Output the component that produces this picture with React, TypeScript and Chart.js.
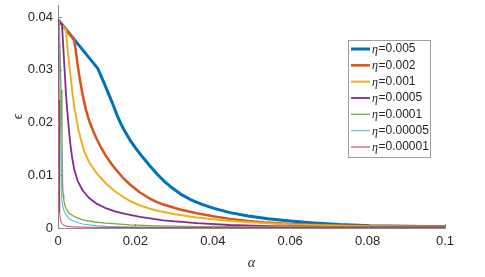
import React, { useEffect, useRef } from "react";
import { Chart, registerables } from "chart.js";

Chart.register(...registerables);

// ---- data ----
const seriesLabels = ["0.005", "0.002", "0.001", "0.0005", "0.0001", "0.00005", "0.00001"];

const alphaA = [0, 0.0045, 0.01026, 0.01214, 0.01395, 0.01525, 0.01628, 0.01731, 0.0186, 0.02016, 0.02196, 0.02377, 0.02558, 0.02739, 0.02946, 0.03178, 0.03437, 0.03721, 0.04031, 0.04444, 0.0491, 0.05426, 0.05995, 0.06615, 0.07287, 0.08062, 0.1];
const epsA = [0.0395, 0.0355, 0.03028, 0.02711, 0.02389, 0.02142, 0.01972, 0.01829, 0.01668, 0.01507, 0.01336, 0.01175, 0.01024, 0.00891, 0.00762, 0.00639, 0.00535, 0.00447, 0.00372, 0.00292, 0.00227, 0.00174, 0.00133, 0.00097, 0.00066, 0.00044, 0.00023];

const alphaB = [0, 0.00421, 0.00509, 0.00568, 0.00638, 0.00724, 0.00809, 0.00904, 0.00982, 0.01085, 0.0124, 0.01421, 0.01672, 0.0186, 0.02101, 0.02326, 0.02532, 0.02721, 0.03152, 0.03584, 0.04005, 0.04444, 0.0491, 0.05393, 0.05995, 0.0677, 0.07804, 0.08837, 0.1];
const epsB = [0.0395, 0.03564, 0.0309, 0.02806, 0.02521, 0.02237, 0.02028, 0.01848, 0.01716, 0.01564, 0.01365, 0.01175, 0.00957, 0.00825, 0.00682, 0.00578, 0.00502, 0.00445, 0.00351, 0.00279, 0.00222, 0.00173, 0.00133, 0.00102, 0.00076, 0.00055, 0.0004, 0.0003, 0.00023];

const alphaC = [0, 0.00207, 0.00245, 0.00292, 0.00336, 0.0038, 0.00432, 0.00483, 0.00537, 0.00594, 0.00685, 0.00809, 0.00956, 0.01085, 0.0124, 0.01447, 0.01672, 0.0186, 0.02119, 0.02532, 0.03023, 0.03584, 0.04444, 0.05393, 0.06253, 0.07545, 0.08837, 0.1];
const epsC = [0.0395, 0.03754, 0.03431, 0.0309, 0.02806, 0.02521, 0.02256, 0.02047, 0.01839, 0.01668, 0.01441, 0.01242, 0.01081, 0.00967, 0.00844, 0.00711, 0.00597, 0.00512, 0.00427, 0.00332, 0.0026, 0.00199, 0.00133, 0.00089, 0.00061, 0.00038, 0.00027, 0.00023];

const alphaD = [0, 0.00103, 0.00129, 0.00163, 0.00186, 0.00207, 0.00238, 0.00266, 0.00292, 0.00323, 0.00367, 0.00421, 0.00504, 0.00638, 0.00801, 0.00982, 0.01214, 0.01473, 0.01731, 0.02119, 0.02721, 0.03584, 0.04444, 0.05478, 0.07028, 0.1];
const epsD = [0.0395, 0.03858, 0.03526, 0.0309, 0.02806, 0.02521, 0.02237, 0.0201, 0.01782, 0.01573, 0.01327, 0.01109, 0.009, 0.00711, 0.00569, 0.00468, 0.00383, 0.00317, 0.00269, 0.00212, 0.00146, 0.00091, 0.00057, 0.00034, 0.00023, 0.00019];

const alphaE = [0, 0.00026, 0.00052, 0.00078, 0.00103, 0.00121, 0.00134, 0.0015, 0.00171, 0.00202, 0.00245, 0.00292, 0.00439, 0.00638, 0.00956, 0.0124, 0.0186, 0.02532, 0.03669, 0.06253, 0.1];
const epsE = [0.0395, 0.03924, 0.03374, 0.02616, 0.01668, 0.00783, 0.00626, 0.00531, 0.00446, 0.00379, 0.00322, 0.00281, 0.00209, 0.00155, 0.00114, 0.00091, 0.00061, 0.00042, 0.00027, 0.00019, 0.00015];

const alphaF = [0, 0.00026, 0.00052, 0.00078, 0.00093, 0.00103, 0.00119, 0.0014, 0.00168, 0.0022, 0.00292, 0.00413, 0.00638, 0.00956, 0.0124, 0.02119, 0.03669, 0.1];
const epsF = [0.0395, 0.03905, 0.02806, 0.01479, 0.0072, 0.00531, 0.00436, 0.0036, 0.00298, 0.00233, 0.00174, 0.00123, 0.00076, 0.00045, 0.0003, 0.00019, 0.00013, 0.00009];

const alphaG = [0, 0.00013, 0.00026, 0.00036, 0.00047, 0.00059, 0.00078, 0.00116, 0.00207, 0.00439, 0.01085, 0.1];
const epsG = [0.0395, 0.03848, 0.02427, 0.0091, 0.00303, 0.0018, 0.00114, 0.00066, 0.00034, 0.00019, 0.00011, 0.00008];

const xTicks = [0, 0.02, 0.04, 0.06, 0.08, 0.1];
const yTicks = [0, 0.01, 0.02, 0.03, 0.04];

const seriesAlpha = [alphaA, alphaB, alphaC, alphaD, alphaE, alphaF, alphaG];
const seriesEps = [epsA, epsB, epsC, epsD, epsE, epsF, epsG];
const colors = ["#0072BD", "#D95319", "#EDB120", "#7E2F8E", "#77AC30", "#4DBEEE", "#C2304F"];
const widths = [3, 2.5, 2, 1.8, 1.3, 1.1, 0.9];

const AXIS_COLOR = "#8a8a8a";
const TEXT_COLOR = "#262626";

const innerTicks = {
  id: "innerTicks",
  afterDatasetsDraw(chart: any) {
    const { ctx, chartArea, scales } = chart;
    ctx.save();
    ctx.strokeStyle = AXIS_COLOR;
    ctx.lineWidth = 1;
    ctx.beginPath();
    for (const v of yTicks) {
      const py = Math.round(scales.y.getPixelForValue(v)) + 0.5;
      ctx.moveTo(chartArea.left, py);
      ctx.lineTo(chartArea.left + 4, py);
    }
    for (const v of xTicks) {
      const px = Math.round(scales.x.getPixelForValue(v)) + 0.5;
      ctx.moveTo(px, chartArea.bottom);
      ctx.lineTo(px, chartArea.bottom - 4);
    }
    ctx.stroke();
    ctx.restore();
  },
};

const boxLegend = {
  id: "boxLegend",
  afterDraw(chart: any) {
    const { ctx } = chart;
    const bx = 348.5, by = 40.5, bw = 82, bh = 117;
    ctx.save();
    ctx.fillStyle = "#ffffff";
    ctx.fillRect(bx, by, bw, bh);
    ctx.strokeStyle = "#a0a0a0";
    ctx.lineWidth = 1;
    ctx.strokeRect(bx, by, bw, bh);
    chart.data.datasets.forEach((ds: any, i: number) => {
      const y = 49 + i * 16.33;
      ctx.strokeStyle = ds.borderColor;
      ctx.lineWidth = Math.max(ds.borderWidth, 1);
      ctx.beginPath();
      ctx.moveTo(351, y);
      ctx.lineTo(370, y);
      ctx.stroke();
      ctx.fillStyle = TEXT_COLOR;
      ctx.textBaseline = "middle";
      ctx.font = "italic 12px 'Liberation Serif'";
      ctx.fillText("η", 372, y + 1);
      const w = ctx.measureText("η").width;
      ctx.font = "12px 'Liberation Sans'";
      ctx.fillText("=" + seriesLabels[i], 372 + w + 0.5, y);
    });
    ctx.restore();
  },
};

export default function App() {
  const ref = useRef<HTMLCanvasElement | null>(null);

  useEffect(() => {
    document.body.style.margin = "0";
    if (!ref.current) return;
    const datasets = seriesAlpha.map((al, i) => ({
      label: "η=" + seriesLabels[i],
      data: al.map((a, j) => ({ x: a, y: seriesEps[i][j] })),
      borderColor: colors[i],
      backgroundColor: colors[i],
      borderWidth: widths[i],
      pointRadius: 0,
      fill: false,
      tension: 0,
      borderJoinStyle: "round" as const,
      order: 6 - i,
    }));
    const chart = new Chart(ref.current, {
      type: "line",
      data: { datasets },
      options: {
        responsive: false,
        animation: false,
        events: [],
        layout: { padding: { left: 0, top: 5, right: 40, bottom: 0 } },
        plugins: { legend: { display: false }, tooltip: { enabled: false }, title: { display: false } },
        scales: {
          x: {
            type: "linear",
            min: 0,
            max: 0.1,
            grid: { display: false, drawTicks: false },
            border: { display: true, color: AXIS_COLOR, width: 1 },
            afterBuildTicks: (s: any) => {
              s.ticks = xTicks.map((v) => ({ value: v }));
            },
            afterFit: (s: any) => {
              s.height = 49;
              s.paddingLeft = 0;
              s.paddingRight = 0;
            },
            ticks: {
              padding: 6,
              color: TEXT_COLOR,
              font: { family: "'Liberation Sans'", size: 13 },
              maxRotation: 0,
              autoSkip: false,
              callback: (v: any) => String(v),
            },
            title: {
              display: true,
              text: "α",
              color: TEXT_COLOR,
              font: { family: "'Liberation Serif'", size: 14, style: "italic" },
              padding: { top: 0, bottom: 5 },
            },
          },
          y: {
            type: "linear",
            min: 0,
            max: 0.0423,
            grid: { display: false, drawTicks: false },
            border: { display: true, color: AXIS_COLOR, width: 1 },
            afterBuildTicks: (s: any) => {
              s.ticks = yTicks.map((v) => ({ value: v }));
            },
            afterFit: (s: any) => {
              s.width = 58;
              s.paddingTop = 0;
              s.paddingBottom = 0;
            },
            ticks: {
              padding: 5,
              color: TEXT_COLOR,
              font: { family: "'Liberation Sans'", size: 13 },
              autoSkip: false,
              callback: (v: any) => String(v),
            },
            title: {
              display: true,
              text: "ϵ",
              color: TEXT_COLOR,
              font: { family: "'Liberation Serif'", size: 14, style: "italic" },
              padding: { top: 10, bottom: 0 },
            },
          },
        },
      },
      plugins: [innerTicks, boxLegend],
    });
    return () => chart.destroy();
  }, []);

  return (
    <div style={{ width: 485, height: 277, background: "#fff" }}>
      <canvas ref={ref} width={485} height={277} style={{ display: "block" }} />
    </div>
  );
}
